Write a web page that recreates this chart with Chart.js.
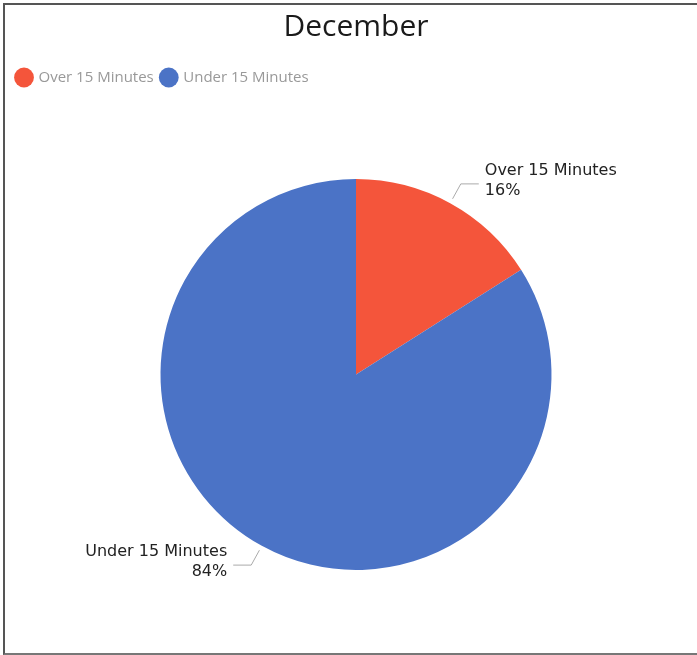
<!DOCTYPE html>
<html>
<head>
<meta charset="utf-8">
<script src="https://cdn.jsdelivr.net/npm/chart.js@4"></script>
<style>
    html, body { margin: 0; padding: 0; background: #fff; overflow: hidden; }
    #frame {
        position: absolute; left: 3px; top: 3px; width: 692px; height: 648px;
        border-left: 2px solid #555; border-top: 2px solid #555; border-bottom: 2px solid #777;
    }
    #wrap { position: absolute; left: 0; top: 0; width: 703px; height: 655px; }
</style>
</head>
<body>
<div id="frame"></div>
<div id="wrap"><canvas id="myChart"></canvas></div>
<script>
// chart data
const categories = ["Over 15 Minutes", "Under 15 Minutes"];
const shares = [16, 84];
const sliceColors = ["#f4553b", "#4b73c6"];
const chartTitle = "December";

// leader lines + outside labels like the original
const outsideLabels = {
    id: 'outsideLabels',
    afterDatasetsDraw(chart) {
        const ctx = chart.ctx;
        const arcs = chart.getDatasetMeta(0).data;
        ctx.save();
        arcs.forEach(function (arc, i) {
            const mid = (arc.startAngle + arc.endAngle) / 2;
            const r = arc.outerRadius;
            const cos = Math.cos(mid), sin = Math.sin(mid);
            const x0 = arc.x + (r + 5) * cos, y0 = arc.y + (r + 5) * sin;
            const x1 = arc.x + (r + 22) * cos, y1 = arc.y + (r + 22) * sin;
            const right = cos >= 0;
            const x2 = x1 + (right ? 18 : -18);
            ctx.strokeStyle = '#aaa';
            ctx.lineWidth = 1;
            ctx.beginPath();
            ctx.moveTo(x0, y0);
            ctx.lineTo(x1, y1);
            ctx.lineTo(x2, y1);
            ctx.stroke();
            ctx.fillStyle = '#222';
            ctx.font = '16px "DejaVu Sans"';
            ctx.textBaseline = 'middle';
            ctx.textAlign = right ? 'left' : 'right';
            const tx = x2 + (right ? 6 : -6);
            ctx.fillText(categories[i], tx, y1 - 13);
            ctx.fillText(shares[i] + '%', tx, y1 + 7);
        });
        ctx.restore();
    }
};

// extra room under the legend
const legendGap = {
    id: 'legendGap',
    beforeInit(chart) {
        const origFit = chart.legend.fit;
        chart.legend.fit = function () {
            origFit.bind(chart.legend)();
            this.height += 84;
        };
    }
};

const ctx = document.getElementById('myChart').getContext('2d');
const myChart = new Chart(ctx, {
    type: 'pie',
    data: {
        labels: categories,
        datasets: [{
            data: shares,
            backgroundColor: sliceColors,
            borderWidth: 0
        }]
    },
    options: {
        responsive: true,
        maintainAspectRatio: false,
        animation: false,
        layout: {
            padding: { top: 0, bottom: 85, left: 9, right: 0 }
        },
        plugins: {
            title: {
                display: true,
                text: chartTitle,
                color: '#1a1a1a',
                font: { family: 'Open Sans', size: 30, weight: 'normal' },
                padding: { top: 9, bottom: 17 }
            },
            legend: {
                position: 'top',
                align: 'start',
                labels: {
                    usePointStyle: true,
                    pointStyle: 'circle',
                    boxWidth: 14,
                    boxHeight: 14,
                    padding: 8,
                    color: '#999',
                    font: { family: 'Open Sans', size: 15 }
                }
            },
            tooltip: { enabled: false }
        }
    },
    plugins: [outsideLabels, legendGap]
});
</script>
</body>
</html>
